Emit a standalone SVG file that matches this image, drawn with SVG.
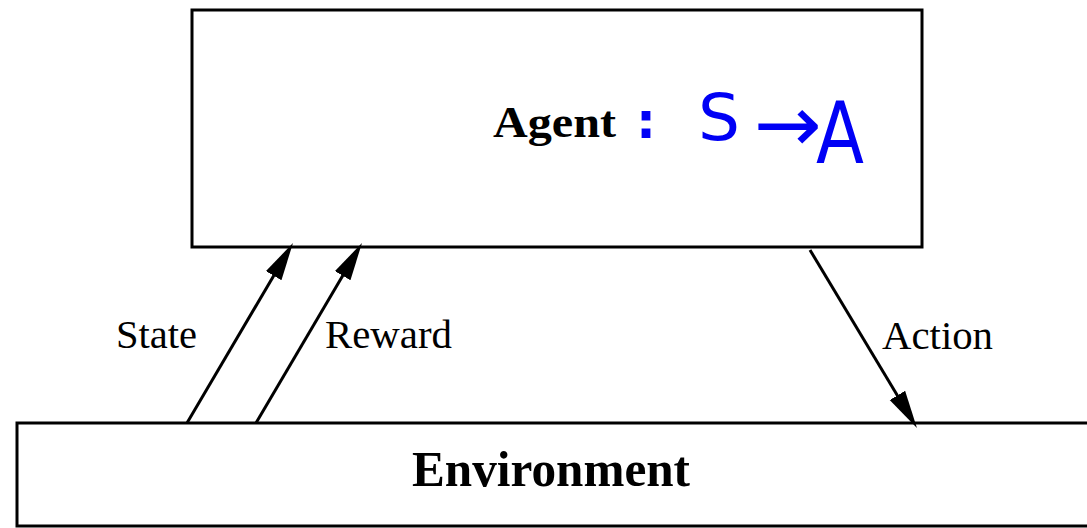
<svg xmlns="http://www.w3.org/2000/svg" width="1087" height="528" viewBox="0 0 1087 528">
<style>
.box{fill:#fff;stroke:#000;stroke-width:3}
.lbl{font-family:"Liberation Serif","Times New Roman",serif;font-size:40px;fill:#000}
.title{font-family:"Liberation Serif","Times New Roman",serif;font-weight:bold;fill:#000}
.edge{stroke:#000;stroke-width:3;fill:none;marker-end:url(#ah)}
.hand{font-family:"DejaVu Sans","Liberation Sans",sans-serif;fill:#0000f5}
</style>
<defs>
<marker id="ah" markerUnits="userSpaceOnUse" markerWidth="40" markerHeight="20" refX="28" refY="9" orient="auto">
<path d="M0,0 L38,9 L0,18 z" fill="#000"/>
</marker>
</defs>
<rect width="1087" height="528" fill="#fff"/>
<g id="agent">
<rect class="box" x="192" y="10" width="730" height="237"/>
<text class="title" x="493" y="137" font-size="44" textLength="123" lengthAdjust="spacingAndGlyphs">Agent</text>
<text class="hand" x="636" y="138" font-size="50" font-weight="bold">:</text>
<text class="hand" x="698" y="140" font-size="64" textLength="42" lengthAdjust="spacingAndGlyphs">S</text>
<text class="hand" x="754" y="151" font-size="78" textLength="68" lengthAdjust="spacingAndGlyphs">→</text>
<text class="hand" x="816" y="163" font-size="86" textLength="48" lengthAdjust="spacingAndGlyphs">A</text>
</g>
<g id="environment">
<rect class="box" x="17" y="423" width="1090" height="103"/>
<text class="title" x="412" y="486" font-size="50" textLength="278" lengthAdjust="spacingAndGlyphs">Environment</text>
</g>
<g id="connectors">
<line class="edge" x1="187" y1="423" x2="287.9" y2="251.6"/>
<line class="edge" x1="256" y1="423" x2="356.9" y2="251.6"/>
<line class="edge" x1="810" y1="250" x2="911.8" y2="419.4"/>
<text class="lbl" x="116" y="348" textLength="81" lengthAdjust="spacingAndGlyphs">State</text>
<text class="lbl" x="325" y="348" textLength="127" lengthAdjust="spacingAndGlyphs">Reward</text>
<text class="lbl" x="882" y="349" textLength="111" lengthAdjust="spacingAndGlyphs">Action</text>
</g>
</svg>
